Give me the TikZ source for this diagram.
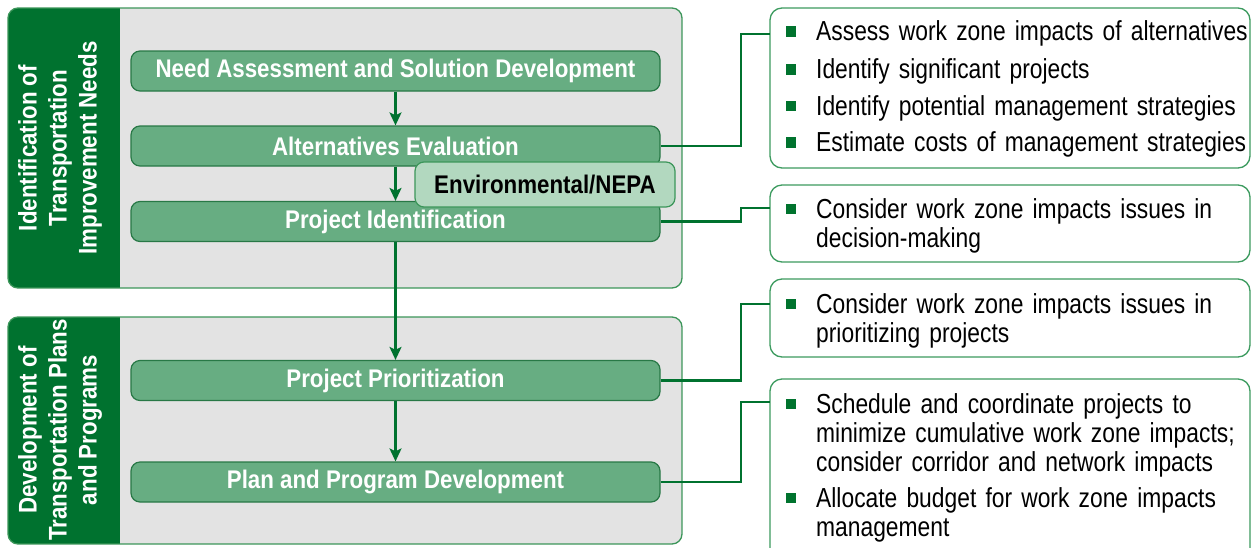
\documentclass[tikz,border=0pt]{standalone}
\usepackage{fontspec}
\usetikzlibrary{arrows.meta,calc}
\newfontfamily\condreg{Liberation Sans}[FakeStretch=0.83]
\newfontfamily\condbold{Liberation Sans}[FakeStretch=0.875]
\definecolor{dkgreen}{RGB}{0,114,47}
\definecolor{stepfill}{RGB}{103,173,130}
\definecolor{stepline}{RGB}{40,120,70}
\definecolor{grayfill}{RGB}{227,227,227}
\definecolor{grpline}{RGB}{60,150,90}
\definecolor{nepafill}{RGB}{178,216,191}
\definecolor{bulc}{RGB}{0,115,46}
\definecolor{boxline}{RGB}{60,155,95}
\newcommand\bul{\makebox[0pt][r]{\textcolor{bulc}{\rule[3.8pt]{10.5pt}{10.5pt}}\hspace{20pt}}}
\tikzset{
  stepbox/.style={draw=stepline, fill=stepfill, rounded corners=9pt, minimum width=529pt,
    minimum height=40pt, inner sep=0pt, text=white, line width=1.2pt,
    font=\condbold\bfseries\fontsize{25.5}{28}\selectfont},
  nepabox/.style={draw=grpline, fill=nepafill, rounded corners=9pt, minimum width=260pt,
    minimum height=45pt, inner sep=0pt, text=black, line width=1.2pt,
    font=\condbold\bfseries\fontsize{25.5}{28}\selectfont},
  sidelabel/.style={rotate=90, align=center, text=white, inner sep=0pt,
    font=\condbold\bfseries\fontsize{25.5}{30}\selectfont},
  infobox/.style={draw=boxline, fill=white, rounded corners=12pt, line width=1.3pt,
    minimum width=480pt, inner sep=0pt},
  item/.style={anchor=base west, inner sep=0pt, text width=440pt, align=left, text=black,
    font=\condreg\fontsize{27.5}{29}\selectfont},
  flow/.style={draw=dkgreen, line width=2.2pt, -{Stealth[length=13pt,width=12pt,inset=3pt]}},
  conn/.style={draw=dkgreen, line width=2.5pt},
  grpframe/.style={draw=grpline, line width=1.3pt, rounded corners=10pt}
}
\begin{document}
\begin{tikzpicture}[x=1pt,y=-1pt]
\clip (0,0) rectangle (1251,547);
\fill[white] (0,0) rectangle (1251,547);
% top group
\begin{scope}
\clip[rounded corners=10pt] (8,8) rectangle (682,288);
\fill[grayfill] (8,8) rectangle (682,288);
\fill[dkgreen] (8,8) rectangle (120,288);
\end{scope}
\draw[grpframe] (8,8) rectangle (682,288);
% bottom group
\begin{scope}
\clip[rounded corners=10pt] (8,317) rectangle (682,544);
\fill[grayfill] (8,317) rectangle (682,544);
\fill[dkgreen] (8,317) rectangle (120,544);
\end{scope}
\draw[grpframe] (8,317) rectangle (682,544);
\node[sidelabel] (lab1) at (60,148) {Identification of\\Transportation\\Improvement Needs};
\node[sidelabel] (lab2) at (60,430) {Development of\\Transportation Plans\\and Programs};
% steps
\node[stepbox] (need) at (395.5,71) {Need Assessment and Solution Development};
\node[stepbox] (alt) at (395.5,146) {Alternatives Evaluation};
\node[stepbox] (pid) at (395.5,221.5) {Project Identification};
\node[stepbox] (prio) at (395.5,380.5) {Project Prioritization};
\node[stepbox] (plan) at (395.5,482) {Plan and Program Development};
\node[nepabox] (nepa) at (545,184.5) {Environmental/NEPA};
\draw[flow] (need.south) -- (alt.north);
\draw[flow] (alt.south) -- (pid.north);
\draw[flow] (pid.south) -- (prio.north);
\draw[flow] (prio.south) -- (plan.north);
% info boxes
\node[infobox, minimum height=160pt] (box1) at (1010,88) {};
\node[infobox, minimum height=77pt] (box2) at (1010,223.5) {};
\node[infobox, minimum height=78pt] (box3) at (1010,318) {};
\node[infobox, minimum height=201pt] (box4) at (1010,479.5) {};
\coordinate (c1) at (770,34);
\coordinate (c2) at (770,208);
\coordinate (c3) at (770,304);
\coordinate (c4) at (770,402);
\draw[conn] (alt.east) -| ($(c1)+(-29,0)$) -- (c1);
\draw[conn] (pid.east) -| ($(c2)+(-29,0)$) -- (c2);
\draw[conn] (prio.east) -| ($(c3)+(-29,0)$) -- (c3);
\draw[conn] (plan.east) -| ($(c4)+(-29,0)$) -- (c4);
% items
\node[item] (i11) at (816,40.7) {\bul Assess work zone impacts of alternatives};
\node[item] (i12) at (816,78.3) {\bul Identify significant projects};
\node[item] (i13) at (816,115) {\bul Identify potential management strategies};
\node[item] (i14) at (816,151.7) {\bul Estimate costs of management strategies};
\node[item] (i21) at (816,218) {\bul Consider work zone impacts issues in\\decision-making};
\node[item] (i31) at (816,313) {\bul Consider work zone impacts issues in\\prioritizing projects};
\node[item] (i41) at (816,413) {\bul Schedule and coordinate projects to\\minimize cumulative work zone impacts;\\consider corridor and network impacts};
\node[item] (i42) at (816,507) {\bul Allocate budget for work zone impacts\\management};
\end{tikzpicture}
\end{document}
